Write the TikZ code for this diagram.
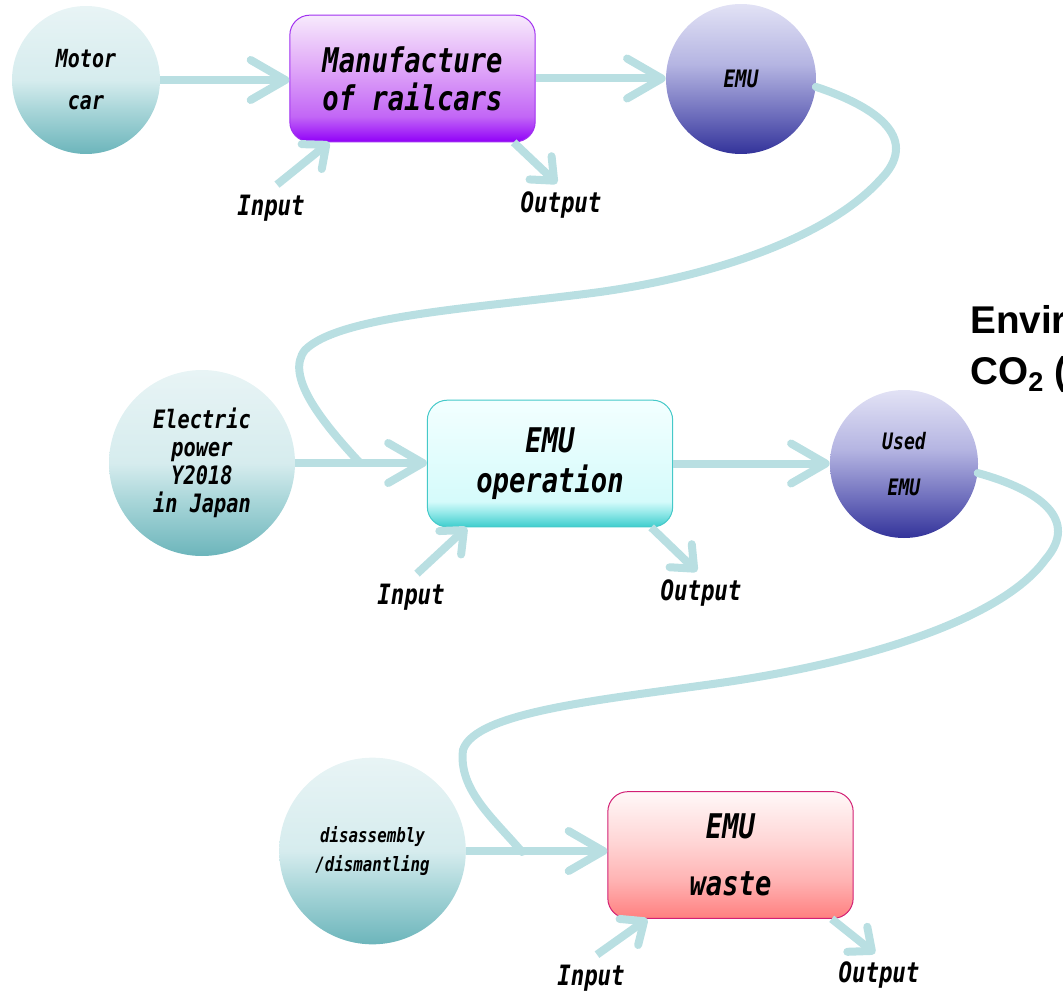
\documentclass[tikz,border=0pt]{standalone}
\usepackage{fontspec}
\usetikzlibrary{arrows.meta}
\newfontfamily\lblfont{DejaVu Sans Mono Bold Oblique}[FakeStretch=0.8]
\newfontfamily\headfont{Liberation Sans}
\newcommand{\lbl}[2]{\fontsize{#1}{#2}\selectfont\lblfont}

\definecolor{pipecol}{HTML}{B9DFE2}
\definecolor{tealBot}{HTML}{6CB5BB}
\definecolor{tealMid}{HTML}{A9D6D9}
\definecolor{tealLgt}{HTML}{D6ECEE}
\definecolor{tealTop}{HTML}{E8F4F5}
\definecolor{blueBot}{HTML}{33339A}
\definecolor{blueMid}{HTML}{6D6DBC}
\definecolor{blueLgt}{HTML}{B5B5E2}
\definecolor{blueTop}{HTML}{E2E2F5}
\definecolor{mfgBot}{HTML}{9100F8}
\definecolor{mfgMid}{HTML}{C266F6}
\definecolor{mfgLgt}{HTML}{E1AAF8}
\definecolor{mfgTop}{HTML}{F7EAFC}
\definecolor{mfgEdge}{HTML}{A030F0}
\definecolor{opsBot}{HTML}{3ECDCD}
\definecolor{opsMid}{HTML}{8AE6E6}
\definecolor{opsLgt}{HTML}{D5FBFB}
\definecolor{opsTop}{HTML}{F3FFFF}
\definecolor{opsEdge}{HTML}{45C9C9}
\definecolor{wasteBot}{HTML}{FF7F7F}
\definecolor{wasteMid}{HTML}{FFB3B3}
\definecolor{wasteLgt}{HTML}{FFD5D5}
\definecolor{wasteTop}{HTML}{FFF8F8}
\definecolor{wasteEdge}{HTML}{D21F74}

\pgfdeclareverticalshading{tealfill}{100bp}{color(0bp)=(tealBot); color(25bp)=(tealBot);
  color(40bp)=(tealMid); color(50bp)=(tealLgt); color(75bp)=(tealTop); color(100bp)=(tealTop)}
\pgfdeclareverticalshading{bluefill}{100bp}{color(0bp)=(blueBot); color(25bp)=(blueBot);
  color(38bp)=(blueMid); color(55bp)=(blueLgt); color(75bp)=(blueTop); color(100bp)=(blueTop)}
\pgfdeclareverticalshading{mfgfill}{100bp}{color(0bp)=(mfgBot); color(25bp)=(mfgBot);
  color(35bp)=(mfgMid); color(55bp)=(mfgLgt); color(75bp)=(mfgTop); color(100bp)=(mfgTop)}
\pgfdeclareverticalshading{opsfill}{100bp}{color(0bp)=(opsBot); color(25bp)=(opsBot);
  color(30bp)=(opsMid); color(35bp)=(opsLgt); color(75bp)=(opsTop); color(100bp)=(opsTop)}
\pgfdeclareverticalshading{wastefill}{100bp}{color(0bp)=(wasteBot); color(25bp)=(wasteBot);
  color(40bp)=(wasteMid); color(55bp)=(wasteLgt); color(75bp)=(wasteTop); color(100bp)=(wasteTop)}

\tikzset{
    ball/.style={circle, inner sep=0pt, minimum size=#1, align=center},
    tealball/.style={ball=#1, shading=tealfill},
    blueball/.style={ball=#1, shading=bluefill},
    procbox/.style={rounded corners=15pt, minimum width=184pt, minimum height=95pt,
        inner sep=0pt, align=center, line width=0.75pt},
    flowarrow/.style={pipecol, line width=6pt, -{Straight Barb[length=26pt,width=30pt,round]}},
    feedarrow/.style={pipecol, line width=6pt, -{Straight Barb[length=14pt,width=24pt,round]}},
    retline/.style={pipecol, line width=6pt, line cap=round},
    iolabel/.style={inner sep=0pt, font=\lbl{21}{25}}
}

\begin{document}
\begin{tikzpicture}[x=0.75pt, y=-0.75pt]
    \useasboundingbox (0,0) rectangle (1063,991);
    \clip (0,0) rectangle (1063,991);

    % row 1
    \node[tealball=111pt, font=\lbl{18.7}{31.5}] (motor) at (86,80) {Motor\\car};
    \node[procbox, shading=mfgfill, draw=mfgEdge, font=\lbl{25.5}{28.5}] (mfg) at (412.5,78.5) {Manufacture\\of railcars};
    \node[blueball=112.5pt, font=\lbl{18}{20}] (emuA) at (741,79) {EMU};
    \node[iolabel] (inA) at (271,208) {Input};
    \node[iolabel] (outA) at (561,205) {Output};

    % row 2
    \node[tealball=139.5pt, font=\lbl{19}{21}] (elec) at (202,463) {Electric\\power\\Y2018\\in Japan};
    \node[procbox, shading=opsfill, draw=opsEdge, font=\lbl{25.5}{30}] (ops) at (550,463.5) {EMU\\operation};
    \node[blueball=111pt, font=\lbl{17}{34}] (used) at (904,464) {Used\\EMU};
    \node[iolabel] (inB) at (411,597) {Input};
    \node[iolabel] (outB) at (701,593) {Output};

    % row 3
    \node[tealball=140pt, font=\lbl{14.8}{22}] (dis) at (372.5,851) {disassembly\\/dismantling};
    \node[procbox, shading=wastefill, draw=wasteEdge, font=\lbl{25.5}{43}] (waste) at (730.5,855) {EMU\\waste};
    \node[iolabel] (inC) at (591,978) {Input};
    \node[iolabel] (outC) at (879,975) {Output};

    \node[anchor=base west, inner sep=0pt, font=\headfont\bfseries\fontsize{29}{33}\selectfont] (envA) at (970,333) {Envir};
    \node[anchor=base west, inner sep=0pt, font=\headfont\bfseries\fontsize{29}{33}\selectfont] (envB) at (970,384) {CO\textsubscript{2} (};

    \draw[flowarrow] (motor.east) -- (motor -| mfg.west);
    \draw[flowarrow] (mfg.east) -- (mfg -| emuA.west);
    \draw[flowarrow] (elec.east) -- (elec -| ops.west);
    \draw[flowarrow] (ops.east) -- (ops -| used.west);
    \draw[flowarrow] (dis.east) -- (dis -| waste.west);

    \foreach \b/\i/\o in {mfg/inA/outA, ops/inB/outB, waste/inC/outC} {
        \draw[feedarrow] ([shift={(6,-10)}]\i.north) -- ([shift={(40,0)}]\b.south west);
        \draw[feedarrow] ([shift={(-22,0)}]\b.south east) -- ([shift={(-4,-8)}]\o.north);
    }

    % product carried down to the next stage
    \coordinate (mergeA) at (360,463);
    \coordinate (mergeB) at (522,852);
    \draw[retline] (emuA.-6) .. controls (880,108) and (920,140) .. (880,180)
        .. controls (830,235) and (720,275) .. (600,292)
        .. controls (480,308) and (340,315) .. (305,350)
        .. controls (285,375) and (320,420) .. (mergeA);
    \draw[retline] (used.-7) .. controls (1040,490) and (1080,520) .. (1045,560)
        .. controls (1005,615) and (880,660) .. (720,683)
        .. controls (600,700) and (475,712) .. (463,750)
        .. controls (458,790) and (495,820) .. (mergeB);
\end{tikzpicture}
\end{document}
